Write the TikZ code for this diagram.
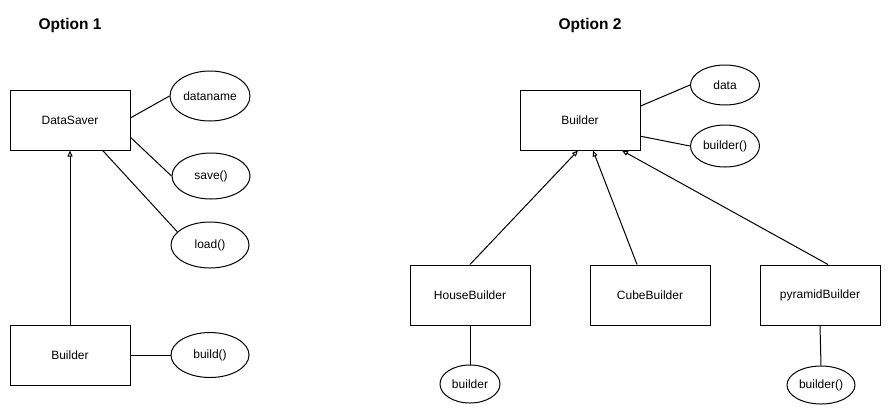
\documentclass[tikz,border=0pt]{standalone}
\usepackage{fontspec}
\setmainfont{Liberation Sans}
\usetikzlibrary{arrows.meta,shapes.geometric}
\begin{document}
\begin{tikzpicture}[
		x=1pt, y=-1pt,
		line width=1pt,
		title/.style={font=\bfseries\fontsize{15.5}{18}\selectfont},
		cls/.style={draw, minimum width=120pt, minimum height=60pt, font=\fontsize{12}{14}\selectfont},
		attr/.style={draw, ellipse, minimum width=78pt, minimum height=46pt, inner sep=0pt, font=\fontsize{12}{14}\selectfont},
		inh/.style={-{Triangle[open,length=6pt,width=5pt]}}
	]
	\useasboundingbox (0,0) rectangle (891,416);
	% option 1
	\node[title] (opt1) at (70,25) {Option 1};
	\node[cls] (saver) at (70,120) {DataSaver};
	\node[attr, minimum width=80pt, minimum height=50pt] (dataname) at (210,96) {dataname};
	\node[attr] (save) at (211,176) {save()};
	\node[attr] (load) at (210,245) {load()};
	\node[cls] (builder1) at (70,355) {Builder};
	\node[attr, minimum height=45pt] (build) at (210,355) {build()};
	\draw (saver.2) -- (dataname.west);
	\draw (saver.344) -- (save.west);
	\draw (saver.317) -- (load.158);
	\draw (builder1.east) -- (build.west);
	\draw[inh] (builder1) -- (saver);
	% option 2
	\node[title] (opt2) at (590,25) {Option 2};
	\node[cls] (builder2) at (580,120) {Builder};
	\node[attr, minimum width=69pt, minimum height=40pt] (data) at (725,85) {data};
	\node[attr, minimum width=69pt, minimum height=42pt] (build2) at (725,146) {builder()};
	\node[cls] (house) at (470,295) {HouseBuilder};
	\node[cls] (cube) at (650,295) {CubeBuilder};
	\node[cls] (pyramid) at (820,295) {pyramidBuilder};
	\node[attr, minimum width=60pt, minimum height=38pt] (hbuild) at (470,384) {builder};
	\node[attr, minimum width=68pt, minimum height=38pt] (pbuild) at (821,385) {builder()};
	\draw (builder2.13) -- (data.west);
	\draw (builder2.345) -- (build2.west);
	\draw[inh] (house.north) -- ([xshift=-2pt]builder2.south);
	\draw[inh] ([xshift=-13pt]cube.north) -- ([xshift=13pt]builder2.south);
	\draw[inh] ([xshift=8pt]pyramid.north) -- ([xshift=42pt]builder2.south);
	\draw (house.south) -- (hbuild.north);
	\draw (pyramid.south) -- (pbuild.north);
\end{tikzpicture}
\end{document}
